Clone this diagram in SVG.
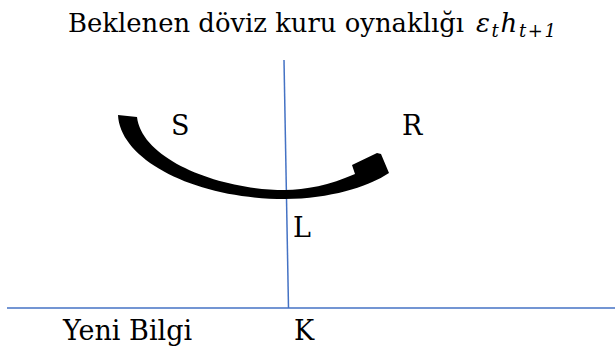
<svg xmlns="http://www.w3.org/2000/svg" width="615" height="352" viewBox="0 0 615 352">
<style>
text{fill:#000;font-family:"DejaVu Serif","Liberation Serif",serif;font-size:27px}
.ttl{font-size:26px}
.m{font-style:italic;font-size:26px}
.sub{font-style:italic;font-size:18px}
.ln{stroke:#4472C4;stroke-width:1.5;fill:none}
</style>
<rect width="615" height="352" fill="#fff"/>
<g id="title">
<text class="ttl" x="68" y="32" textLength="396" lengthAdjust="spacingAndGlyphs">Beklenen döviz kuru oynaklığı</text>
<text x="476" y="32" textLength="80" lengthAdjust="spacing"><tspan class="m">ε</tspan><tspan class="sub" dy="5">t</tspan><tspan class="m" dy="-5">h</tspan><tspan class="sub" dy="5">t+1</tspan></text>
</g>
<g id="connectors">
<line class="ln" x1="284" y1="60" x2="288.5" y2="308"/>
<line class="ln" x1="7" y1="308" x2="615" y2="308"/>
<path id="arrow" d="M137,117 C142,160 220,190 285,190 C305,190 330,185 355,174 L352,165 L377,153 L381,154 L389,173 L384,176 C368,186 330,199 285,199 C195,199 120,160 118,115 Z" fill="#000"/>
</g>
<g id="S"><text x="171" y="135">S</text></g>
<g id="R"><text x="402" y="135">R</text></g>
<g id="L"><text x="293" y="237">L</text></g>
<g id="yeni"><text x="63" y="340">Yeni Bilgi</text></g>
<g id="K"><text x="294" y="340">K</text></g>
</svg>
